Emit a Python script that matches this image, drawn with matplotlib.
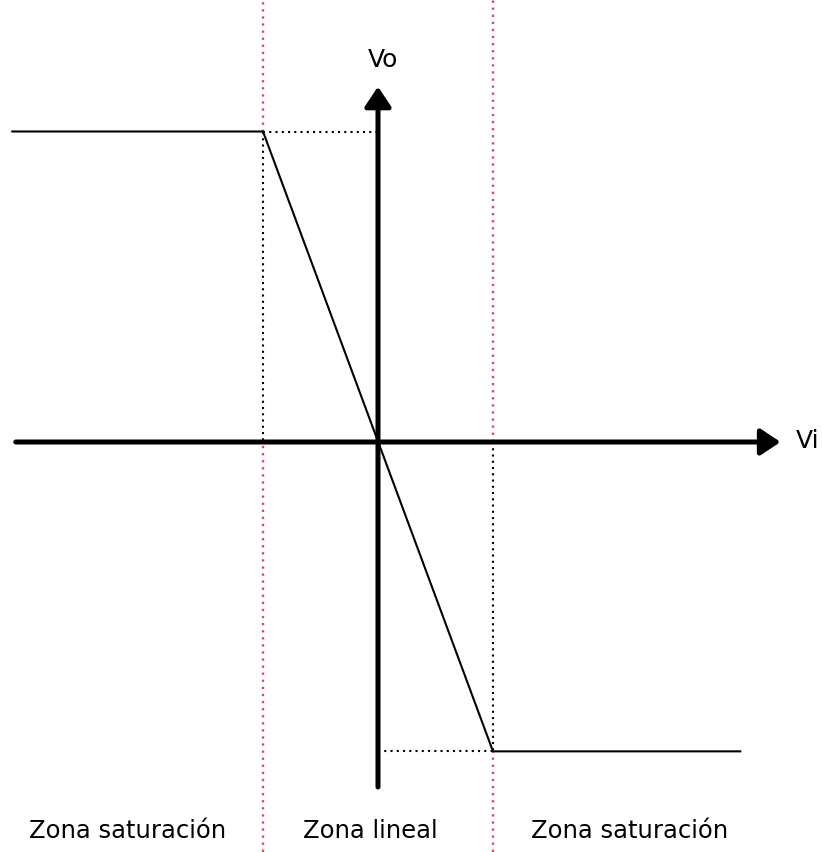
import matplotlib.pyplot as plt

# transfer characteristic of an inverting amplifier (Vi -> Vo)
vi = [-3.18, -1.0, 1.0, 3.15]
vo = [2.70, 2.70, -2.69, -2.69]

# zone borders and zone labels
zone_edges = [-1.0, 1.0]
zone_labels = ["Zona saturación", "Zona lineal", "Zona saturación"]
zone_centers = [-2.18, -0.07, 2.19]

fig = plt.figure(figsize=(8.23, 8.53), dpi=100)
ax = fig.add_axes([0, 0, 1, 1])
ymin, ymax = -410 / 115, 443 / 115
ax.set_xlim(-378 / 115, 445 / 115)
ax.set_ylim(ymin, ymax)
ax.axis("off")

red = "#e04a66"
red_dot = dict(color=red, lw=1.7, ls=(0, (1, 2)), zorder=1)
blk_dot = dict(color="black", lw=1.5, ls=(0, (1, 2)), zorder=2)

# red dotted zone borders; the black guides replace them between knee and axis
x0, x1 = zone_edges
ax.vlines(x0, vo[1], ymax, **red_dot)
ax.vlines(x0, ymin, 0, **red_dot)
ax.vlines(x1, 0, ymax, **red_dot)
ax.vlines(x1, ymin, vo[2], **red_dot)

# black dotted guides from the knees to the axes
ax.plot([vi[1], 0], [vo[1], vo[1]], **blk_dot)
ax.plot([vi[1], vi[1]], [vo[1], 0], **blk_dot)
ax.plot([0, vi[2]], [vo[2], vo[2]], **blk_dot)
ax.plot([vi[2], vi[2]], [0, vo[2]], **blk_dot)

# the characteristic
ax.plot(vi, vo, color="black", lw=1.5, zorder=3)

# axes with arrows
arrow = dict(arrowstyle="-|>,head_length=0.6,head_width=0.4", lw=3.6,
             color="black", mutation_scale=20, shrinkA=0, shrinkB=0)
ax.annotate("", xy=(3.50, 0), xytext=(-3.15, 0), arrowprops=arrow, zorder=4)
ax.annotate("", xy=(0, 3.09), xytext=(0, -3.0), arrowprops=arrow, zorder=4)

ax.text(3.74, 0.02, "Vi", ha="center", va="center", fontsize=18)
ax.text(0.04, 3.33, "Vo", ha="center", va="center", fontsize=18)

for xc, lab in zip(zone_centers, zone_labels):
    ax.text(xc, -3.37, lab, ha="center", va="center", fontsize=17.5)

fig.savefig("out.png", dpi=100)
